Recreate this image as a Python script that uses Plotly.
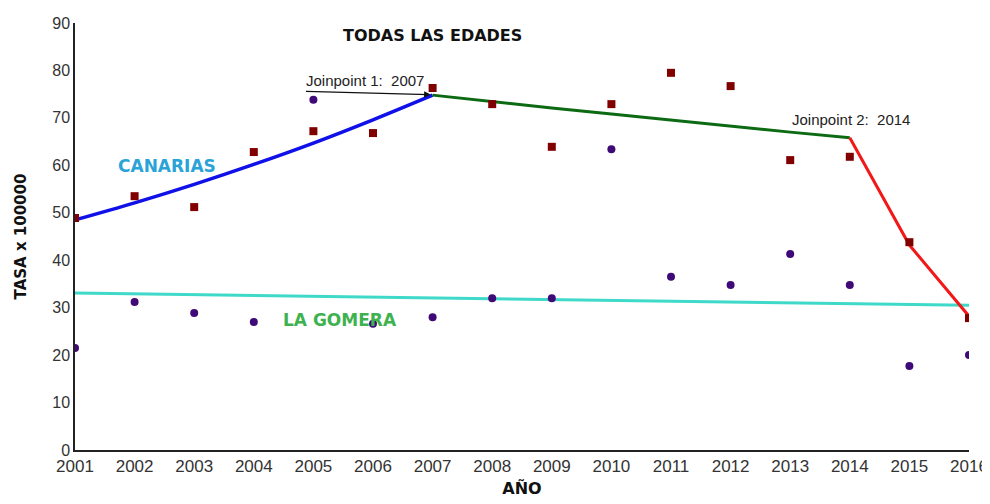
"""Tasa x 100000 - Canarias vs La Gomera, análisis joinpoint"""
import plotly.graph_objects as go

anios = list(range(2001, 2017))

# Tasas observadas
canarias = [48.9, 53.5, 51.2, 62.8, 67.2, 66.8, 76.3, 72.9,
            63.9, 72.9, 79.5, 76.7, 61.1, 61.8, 43.8, 27.8]
gomera = [21.5, 31.2, 28.9, 27.0, 73.8, 26.6, 28.0, 32.0,
          32.0, 63.4, 36.5, 34.8, 41.3, 34.8, 17.7, 20.0]

# Tramos del modelo joinpoint (Canarias)
tramo1_x = [2001, 2002, 2003, 2004, 2005, 2006, 2007]
tramo1_y = [48.5, 52.1, 56.0, 60.2, 64.7, 69.6, 74.8]
tramo2_x = [2007, 2008, 2009, 2010, 2011, 2012, 2013, 2014]
tramo2_y = [74.8, 73.4, 72.1, 70.8, 69.5, 68.2, 67.0, 65.8]
tramo3_x = [2014, 2015, 2016]
tramo3_y = [65.8, 43.2, 28.2]

# Tendencia La Gomera
gomera_tend_x = [2001, 2016]
gomera_tend_y = [33.1, 30.5]

fig = go.Figure()

fig.add_trace(go.Scatter(x=gomera_tend_x, y=gomera_tend_y, mode="lines",
                         line=dict(color="#3FD9C9", width=3)))
fig.add_trace(go.Scatter(x=tramo1_x, y=tramo1_y, mode="lines",
                         line=dict(color="#1010E8", width=3.5, shape="spline")))
fig.add_trace(go.Scatter(x=tramo2_x, y=tramo2_y, mode="lines",
                         line=dict(color="#0B6A12", width=3)))
fig.add_trace(go.Scatter(x=tramo3_x, y=tramo3_y, mode="lines",
                         line=dict(color="#F21818", width=3)))
fig.add_trace(go.Scatter(x=anios, y=canarias, mode="markers",
                         marker=dict(symbol="square", size=8, color="#800000")))
fig.add_trace(go.Scatter(x=anios, y=gomera, mode="markers",
                         marker=dict(symbol="circle", size=8, color="#3F0A78")))

fig.add_annotation(x=2007.0, y=87.3, text="<b>TODAS LAS EDADES</b>",
                   showarrow=False,
                   font=dict(family="DejaVu Sans", size=16, color="#111111"))
fig.add_annotation(x=2002.55, y=59.9, text="<b>CANARIAS</b>", showarrow=False,
                   font=dict(family="DejaVu Sans", size=17, color="#2AA3D8"))
fig.add_annotation(x=2005.45, y=27.4, text="<b>LA GOMERA</b>", showarrow=False,
                   font=dict(family="DejaVu Sans", size=17, color="#3DB24E"))
fig.add_annotation(x=2007, y=74.9, ax=2004.85, ay=75.6, axref="x", ayref="y",
                   text="", showarrow=True, arrowhead=2, arrowsize=1,
                   arrowwidth=1.3, arrowcolor="#111111", standoff=2)
fig.add_annotation(x=2004.85, y=75.7, text="Joinpoint 1:  2007",
                   showarrow=False, xanchor="left", yanchor="bottom",
                   font=dict(family="Liberation Sans", size=15, color="#222222"))
fig.add_annotation(x=2015.05, y=67.4, text="Joinpoint 2:  2014",
                   showarrow=False, xanchor="right", yanchor="bottom",
                   font=dict(family="Liberation Sans", size=15, color="#222222"))

# la página añade 8 px de margen al body: se compensa en el tamaño
fig.update_layout(
    width=982, height=496,
    margin=dict(l=67, r=21, t=15, b=54),
    paper_bgcolor="white",
    plot_bgcolor="white",
    showlegend=False,
    hovermode=False,
    font=dict(family="Liberation Sans", size=16, color="#333333"),
    xaxis=dict(
        range=[2001, 2016], tickmode="array", tickvals=anios,
        showgrid=False, zeroline=False, showline=True, linecolor="#222222",
        linewidth=1.5, tickfont=dict(size=17, color="#333333"),
        automargin=False,
        title=dict(text="<b>AÑO</b>", standoff=8,
                   font=dict(family="DejaVu Sans", size=16, color="#111111")),
    ),
    yaxis=dict(
        range=[0, 90], dtick=10, showgrid=False, zeroline=False,
        showline=True, linecolor="#222222", linewidth=1.5,
        tickfont=dict(size=16, color="#333333"), automargin=False,
        title=dict(text="<b>TASA x 100000</b>", standoff=22,
                   font=dict(family="DejaVu Sans", size=15, color="#111111")),
    ),
)

fig.write_html("out.html")
